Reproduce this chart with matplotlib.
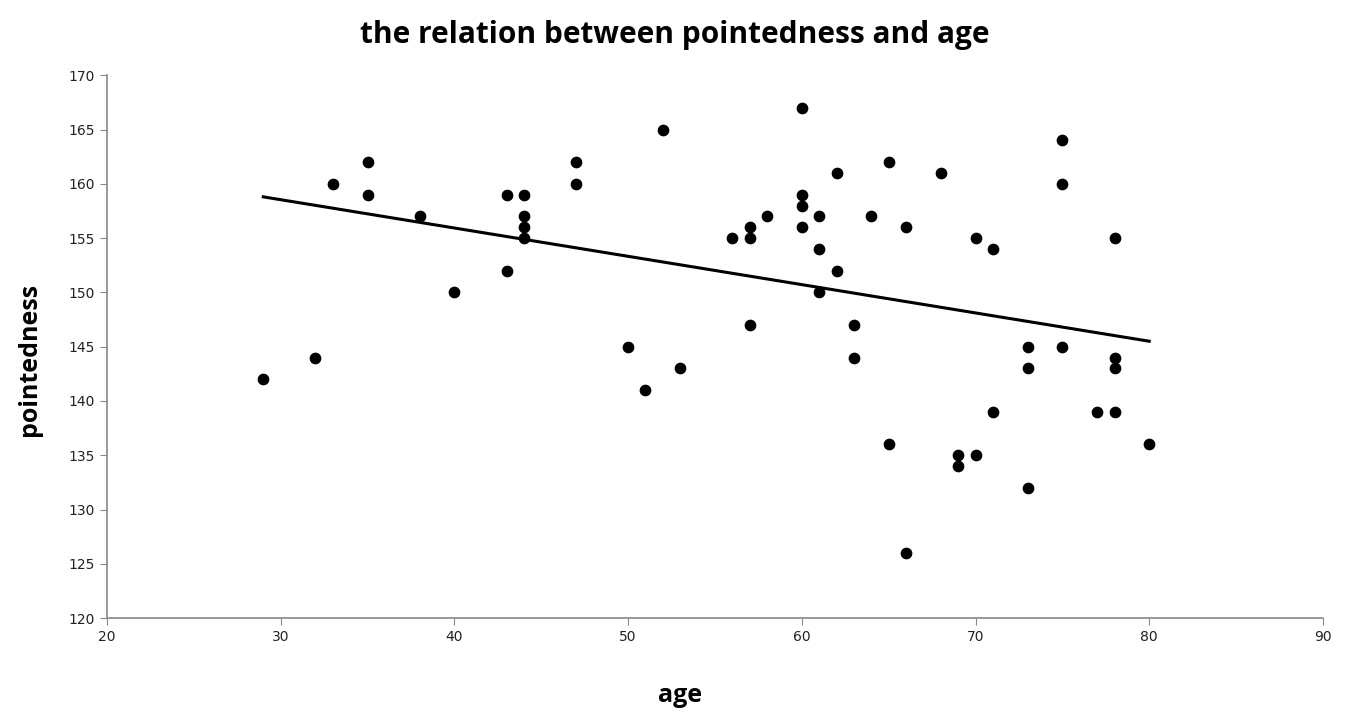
import matplotlib
matplotlib.use("Agg")
import matplotlib.pyplot as plt

# age / pointedness pairs
age = [29, 32, 33, 35, 35, 38, 40, 43, 43, 44, 44, 44, 44, 47, 47,
       50, 51, 52, 53, 56, 57, 57, 57, 58, 60, 60, 60, 60, 61, 61, 61,
       62, 62, 63, 63, 64, 65, 65, 66, 66, 68, 69, 69, 70, 70, 71, 71,
       73, 73, 73, 75, 75, 75, 77, 78, 78, 78, 78, 80]
pointedness = [142, 144, 160, 162, 159, 157, 150, 159, 152, 159, 157, 156, 155, 162, 160,
               145, 141, 165, 143, 155, 156, 155, 147, 157, 167, 159, 158, 156, 157, 154, 150,
               161, 152, 147, 144, 157, 162, 136, 156, 126, 161, 135, 134, 155, 135, 154, 139,
               145, 143, 132, 164, 160, 145, 139, 155, 144, 143, 139, 136]

# linear trendline end points
trend_x = [29, 80]
trend_y = [158.8, 145.5]

fig = plt.figure(figsize=(13.49, 7.17), dpi=100)
ax = fig.add_axes([0.0793, 0.138, 0.9014, 0.757])

ax.scatter(age, pointedness, s=55, color="black", zorder=3)
ax.plot(trend_x, trend_y, color="black", linewidth=2.2, zorder=2)

ax.set_xlim(20, 90)
ax.set_ylim(120, 170)
ax.set_xticks(range(20, 91, 10))
ax.set_yticks(range(120, 171, 5))

for s in ["top", "right"]:
    ax.spines[s].set_visible(False)
for s in ["left", "bottom"]:
    ax.spines[s].set_color("#888888")
    ax.spines[s].set_linewidth(1.2)
ax.tick_params(axis="both", colors="#888888", length=5, labelsize=10,
               labelcolor="#222222")

fig.text(0.5, 0.951, "the relation between pointedness and age", fontsize=21.5,
         fontweight="bold", family="Open Sans", ha="center", va="center")
fig.text(0.504, 0.03, "age", fontsize=18, fontweight="bold", family="Open Sans",
         ha="center", va="center")
fig.text(0.022, 0.498, "pointedness", fontsize=18, fontweight="bold", family="Open Sans",
         ha="center", va="center", rotation=90)

fig.savefig("out.png", dpi=100)
